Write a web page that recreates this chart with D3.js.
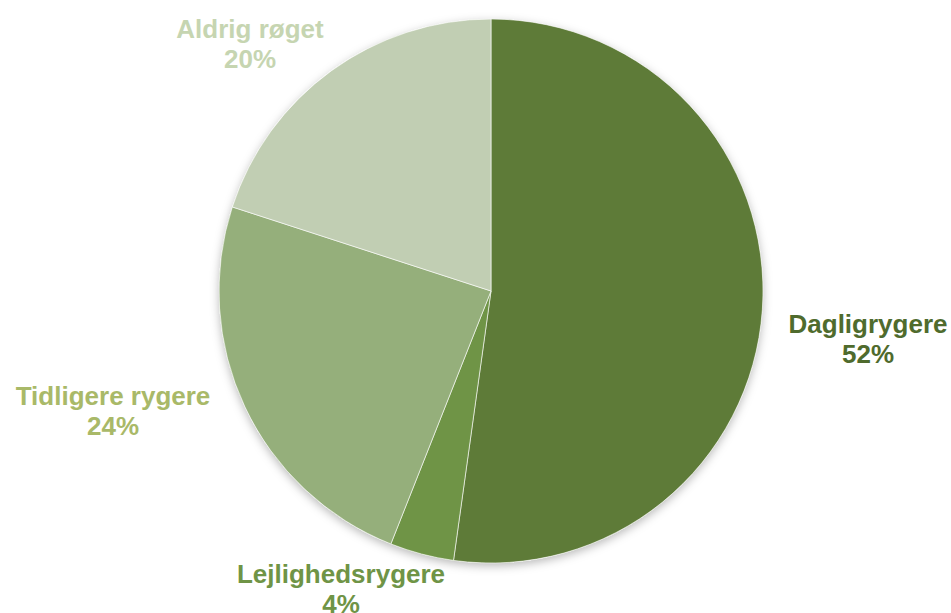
<!DOCTYPE html>
<html>
<head>
<meta charset="utf-8">
<script src="https://cdn.jsdelivr.net/npm/d3@7"></script>
<style>
  html, body { margin: 0; padding: 0; background: #fff; }
  svg { display: block; }
</style>
</head>
<body>
<div id="chart"></div>
<script>
// ------------------------------------
// Data
// ------------------------------------
const categories = ["Dagligrygere", "Lejlighedsrygere", "Tidligere rygere", "Aldrig røget"];
const shares = [52.2, 3.8, 24, 20];
const sliceColors = ["#5e7b38", "#6f9446", "#95af7b", "#c1ceb3"];
const labelColors = ["#4f6b2d", "#6f9446", "#a9b968", "#c6d5b1"];

// label placement relative to pie centre (layout, not data)
const labelOffsets = [
  { dx: 377, dy: 42 },
  { dx: -150, dy: 292 },
  { dx: -378, dy: 114 },
  { dx: -241, dy: -253 }
];

const width = 951, height = 613;
const cx = 491, cy = 291, radius = 272;

const svg = d3.select("#chart").append("svg")
  .attr("width", width)
  .attr("height", height);

// soft shadow under the pie
const defs = svg.append("defs");
const f = defs.append("filter")
  .attr("id", "shadow")
  .attr("x", "-20%").attr("y", "-20%")
  .attr("width", "140%").attr("height", "140%");
f.append("feDropShadow")
  .attr("dx", 0).attr("dy", 3)
  .attr("stdDeviation", 5)
  .attr("flood-color", "#000")
  .attr("flood-opacity", 0.28);

const data = categories.map((c, i) => ({ name: c, value: shares[i], i }));

const pie = d3.pie()
  .value(d => d.value)
  .sort(null);

const arc = d3.arc()
  .innerRadius(0)
  .outerRadius(radius);

const g = svg.append("g")
  .attr("transform", `translate(${cx},${cy})`);

g.append("circle")
  .attr("r", radius)
  .attr("fill", "#fff")
  .attr("filter", "url(#shadow)");

g.selectAll("path.slice")
  .data(pie(data))
  .join("path")
  .attr("class", "slice")
  .attr("d", arc)
  .attr("fill", d => sliceColors[d.data.i])
  .attr("stroke", "#fff")
  .attr("stroke-opacity", 0.6)
  .attr("stroke-width", 1);

// Labels
const labels = g.selectAll("text.lbl")
  .data(pie(data))
  .join("text")
  .attr("class", "lbl")
  .attr("text-anchor", "middle")
  .attr("transform", d => {
    const o = labelOffsets[d.data.i];
    return `translate(${o.dx},${o.dy})`;
  })
  .style("font-family", "Arial, 'Liberation Sans', sans-serif")
  .style("font-weight", "bold")
  .style("font-size", "26px")
  .attr("fill", d => labelColors[d.data.i]);

labels.append("tspan")
  .attr("x", 0)
  .attr("y", 0)
  .text(d => d.data.name);

labels.append("tspan")
  .attr("x", 0)
  .attr("y", 30)
  .text(d => Math.round(d.data.value) + "%");
</script>
</body>
</html>
